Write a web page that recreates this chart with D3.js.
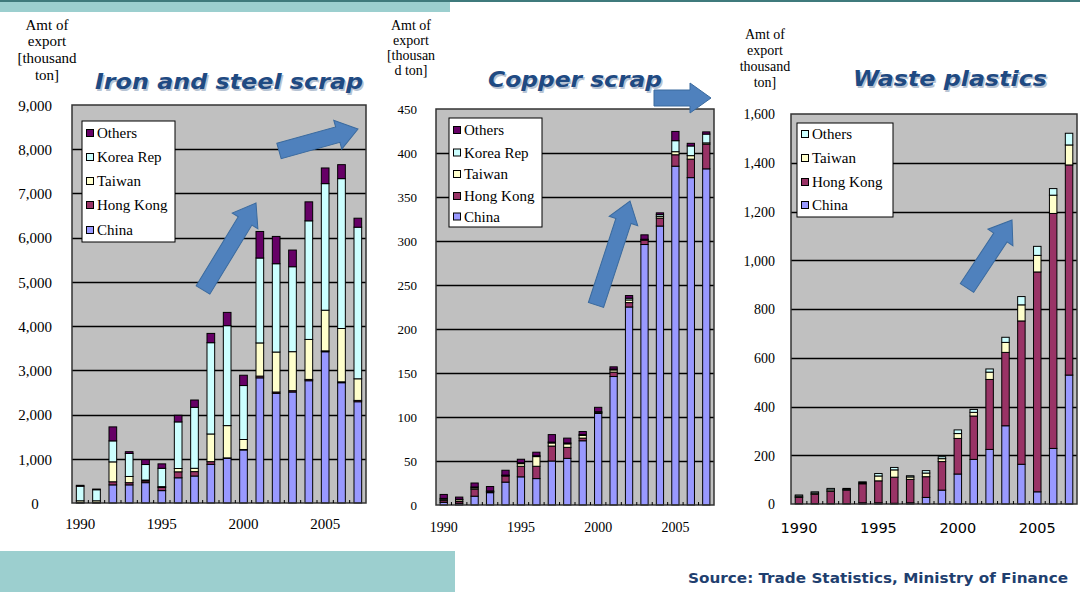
<!DOCTYPE html>
<html><head><meta charset="utf-8">
<script src="https://cdn.jsdelivr.net/npm/d3@7/dist/d3.min.js"></script>
<style>body{margin:0;background:#fff;overflow:hidden} svg{display:block}</style>
</head><body>
<svg id="c" width="1080" height="592"></svg>
<script>
// ---------- DATA ----------
const years = [1990,1991,1992,1993,1994,1995,1996,1997,1998,1999,2000,2001,2002,2003,2004,2005,2006,2007];
const yearTickLabels = [1990,1995,2000,2005];

// Iron and steel scrap (thousand ton)
const ironChina    = [5,5,410,410,460,280,570,610,875,1010,1200,2830,2480,2510,2765,3420,2720,2290];
const ironHongKong = [5,5,70,50,40,70,135,100,60,10,10,40,30,30,30,20,20,30];
const ironTaiwan   = [40,40,450,140,20,20,75,75,626,730,226,750,904,882,904,920,1206,489];
const ironKorea    = [330,250,475,520,350,415,1054,1379,2064,2260,1220,1920,1997,1921,2682,2862,3389,3428];
const ironOthers   = [20,15,316,40,110,100,150,165,210,300,233,600,617,377,429,354,316,203];
const ironTicks    = [0,1000,2000,3000,4000,5000,6000,7000,8000,9000];

// Copper scrap (thousand ton)
const copperChina    = [3,2,10,14,26,32,30,50,53,73,104,146,225,296,317,385,372,382];
const copperHongKong = [2,2,8,1,7,12,14,17,12.5,3,1,5,5,5,9,13,21,28];
const copperTaiwan   = [1.5,2,1.5,0.5,0.5,3,11,3.5,4,3,0.5,2.5,3,0.5,2,3.5,4,1.5];
const copperKorea    = [1,0.5,1,0.5,0.5,1,1,1,1,1,0.5,1,2,0.5,2,12.5,11,10];
const copperOthers   = [4.5,2.5,4.5,5,5.5,4,4,8.5,5.5,3.5,5,2.5,3,5,2,10.5,3,2.5];
const copperTicks    = [0,50,100,150,200,250,300,350,400,450];

// Waste plastics (thousand ton)
const plasticChina    = [2,2,2,2,5,5,3,5,27,57,123,183,224,321,163,50,228,529];
const plasticHongKong = [25,38,50,55,78,90,107,96,85,117,146,178,287,301,588,902,964,862];
const plasticTaiwan   = [5,5,6,3,4,20,30,10,15,12,20,15,30,41,66,68,75,82];
const plasticOthers   = [5,5,6,4,4,10,10,5,10,8,15,12,13,21,34,37,27,48];
const plasticTicks    = [0,200,400,600,800,1000,1200,1400,1600];

const ironKeys = ["China","Hong Kong","Taiwan","Korea Rep","Others"];
const plasticKeys = ["China","Hong Kong","Taiwan","Others"];

// ---------- STYLE / LAYOUT ----------
const SERIF = "'Liberation Serif','Times New Roman',Times,serif";
const colorIron = {"China":"#9999ff","Hong Kong":"#993366","Taiwan":"#ffffcc","Korea Rep":"#ccffff","Others":"#660066"};
const colorPlastic = {"China":"#9999ff","Hong Kong":"#993366","Taiwan":"#ffffcc","Others":"#ccffff"};

const panels = [
  {
    title:"Iron and steel scrap", titleBox:[95,363,89],
    axisLabel:["Amt of","export","[thousand","ton]"], axisLabelX:47, axisLabelY:[30,46,63,80], axisLabelSize:15,
    keys:ironKeys, colors:colorIron,
    cols:{"China":ironChina,"Hong Kong":ironHongKong,"Taiwan":ironTaiwan,"Korea Rep":ironKorea,"Others":ironOthers},
    ticks:ironTicks, max:9000,
    plot:{x0:72,x1:366,y0:105,y1:503},
    yLab:{x:35,anchor:"middle",size:15}, xLab:{y:529,family:SERIF,size:15},
    legend:{x:82,y:121,w:93,h:121,items:[133,157,181,205,230], order:["Others","Korea Rep","Taiwan","Hong Kong","China"]},
    arrows:[[203,290,256,203],[279,151,358,129]]
  },
  {
    title:"Copper scrap", titleBox:[488,662,87],
    axisLabel:["Amt of","export","[thousan","d ton]"], axisLabelX:411, axisLabelY:[30,45,60,75], axisLabelSize:14,
    keys:ironKeys, colors:colorIron,
    cols:{"China":copperChina,"Hong Kong":copperHongKong,"Taiwan":copperTaiwan,"Korea Rep":copperKorea,"Others":copperOthers},
    ticks:copperTicks, max:450,
    plot:{x0:436,x1:714,y0:109,y1:505},
    yLab:{x:417,anchor:"end",size:13}, xLab:{y:532,family:SERIF,size:14},
    legend:{x:449,y:118,w:93,h:109,items:[130,152.5,174,196,216.5], order:["Others","Korea Rep","Taiwan","Hong Kong","China"]},
    arrows:[[596,305,630,201],[654,98,711,98]]
  },
  {
    title:"Waste plastics", titleBox:[853,1047,86],
    axisLabel:["Amt of","export","thousand","ton]"], axisLabelX:765, axisLabelY:[39,55,71,87], axisLabelSize:14,
    keys:plasticKeys, colors:colorPlastic,
    cols:{"China":plasticChina,"Hong Kong":plasticHongKong,"Taiwan":plasticTaiwan,"Others":plasticOthers},
    ticks:plasticTicks, max:1600,
    plot:{x0:791,x1:1077,y0:114,y1:504},
    yLab:{x:775,anchor:"end",size:14}, xLab:{y:533,family:"'DejaVu Sans',sans-serif",size:14.5},
    legend:{x:797,y:123,w:96,h:94,items:[134,158,182,205], order:["Others","Taiwan","Hong Kong","China"]},
    arrows:[[967,288,1012,220]]
  }
];

const svg = d3.select("#c");

// background decorations
svg.append("rect").attr("x",0).attr("y",0).attr("width",1080).attr("height",592).attr("fill","#ffffff");
svg.append("rect").attr("x",0).attr("y",0).attr("width",450).attr("height",12).attr("fill","#9ccfcf");
svg.append("rect").attr("x",0).attr("y",0).attr("width",1080).attr("height",2).attr("fill","#3f7a7c");
svg.append("rect").attr("x",0).attr("y",551).attr("width",455).attr("height",41).attr("fill","#9ccfcf");

function drawArrow(g, a){
  const [x1,y1,x2,y2] = a;
  const L = Math.hypot(x2-x1,y2-y1), ang = Math.atan2(y2-y1,x2-x1)*180/Math.PI;
  const sw=16, hw=30, hl=21;
  const p = `M0,${-sw/2}L${L-hl},${-sw/2}L${L-hl},${-hw/2}L${L},0L${L-hl},${hw/2}L${L-hl},${sw/2}L0,${sw/2}Z`;
  g.append("path").attr("d",p).attr("transform",`translate(${x1},${y1}) rotate(${ang})`)
    .attr("fill","#4f81bd").attr("stroke","#3a6a9e").attr("stroke-width",1);
}

panels.forEach(P=>{
  const g = svg.append("g");
  const data = years.map((yr,i)=>{ const o={year:yr}; P.keys.forEach(k=>o[k]=P.cols[k][i]); return o; });
  const x = d3.scaleBand().domain(years).range([P.plot.x0,P.plot.x1]).paddingInner(0.53).paddingOuter(0.265);
  const y = d3.scaleLinear().domain([0,P.max]).range([P.plot.y1,P.plot.y0]);

  g.append("rect").attr("x",P.plot.x0).attr("y",P.plot.y0).attr("width",P.plot.x1-P.plot.x0).attr("height",P.plot.y1-P.plot.y0)
    .attr("fill","#c0c0c0");
  g.append("g").selectAll("line").data(P.ticks.slice(1,-1)).join("line")
    .attr("x1",P.plot.x0).attr("x2",P.plot.x1).attr("y1",d=>Math.round(y(d))+0.5).attr("y2",d=>Math.round(y(d))+0.5)
    .attr("stroke","#000").attr("stroke-width",1.3);

  const stack = d3.stack().keys(P.keys)(data);
  g.append("g").selectAll("g").data(stack).join("g").attr("fill",s=>P.colors[s.key])
    .selectAll("rect").data(s=>s).join("rect")
    .attr("x",d=>x(d.data.year)).attr("width",x.bandwidth())
    .attr("y",d=>y(d[1])).attr("height",d=>Math.max(0,y(d[0])-y(d[1])))
    .attr("stroke","#000").attr("stroke-width",1);

  g.append("rect").attr("x",P.plot.x0).attr("y",P.plot.y0).attr("width",P.plot.x1-P.plot.x0).attr("height",P.plot.y1-P.plot.y0)
    .attr("fill","none").attr("stroke","#333").attr("stroke-width",1.5);

  const step = x.step();
  g.append("g").selectAll("line").data(years.slice(1)).join("line")
    .attr("x1",d=>x(d)-(step-x.bandwidth())/2).attr("x2",d=>x(d)-(step-x.bandwidth())/2)
    .attr("y1",P.plot.y1).attr("y2",P.plot.y1-3).attr("stroke","#000").attr("stroke-width",1);

  const ya = g.append("g").attr("transform",`translate(${P.yLab.x},0)`)
    .call(d3.axisLeft(y).tickValues(P.ticks).tickSize(0).tickPadding(0).tickFormat(d3.format(",")));
  ya.attr("font-family",null).attr("font-size",null);
  ya.select(".domain").remove();
  ya.selectAll("text").attr("text-anchor",P.yLab.anchor).attr("x",0).attr("dy","0.35em")
    .attr("font-family",SERIF).attr("font-size",P.yLab.size).attr("fill","#000");

  const xa = g.append("g").attr("transform",`translate(0,${P.plot.y1})`)
    .call(d3.axisBottom(x).tickValues(yearTickLabels).tickSize(0).tickPadding(0));
  xa.attr("font-family",null).attr("font-size",null);
  xa.select(".domain").remove();
  xa.selectAll("text").attr("y",P.xLab.y-P.plot.y1).attr("dy",0)
    .attr("font-family",P.xLab.family).attr("font-size",P.xLab.size).attr("fill","#000");

  g.append("g").selectAll("text").data(P.axisLabel).join("text")
    .attr("x",P.axisLabelX).attr("y",(d,i)=>P.axisLabelY[i]).attr("text-anchor","middle")
    .attr("font-family",SERIF).attr("font-size",P.axisLabelSize).attr("fill","#000").text(d=>d);

  const [tx0,tx1,ty] = P.titleBox;
  [[1.5,1.5,"#b7c3d3"],[0,0,"#1f4a82"]].forEach(([dx,dy,c])=>{
    g.append("text").attr("x",tx0+dx).attr("y",ty+dy).attr("textLength",tx1-tx0).attr("lengthAdjust","spacingAndGlyphs")
      .attr("font-family","'DejaVu Sans',sans-serif").attr("font-weight","bold").attr("font-style","italic").attr("font-size",21)
      .attr("fill",c).text(P.title);
  });

  const L = P.legend;
  const lg = g.append("g");
  lg.append("rect").attr("x",L.x).attr("y",L.y).attr("width",L.w).attr("height",L.h).attr("fill","#fff").attr("stroke","#000").attr("stroke-width",1);
  L.order.forEach((k,i)=>{
    lg.append("rect").attr("x",L.x+4.5).attr("y",L.items[i]-3.5).attr("width",7).attr("height",7)
      .attr("fill",P.colors[k]).attr("stroke","#000").attr("stroke-width",1);
    lg.append("text").attr("x",L.x+15).attr("y",L.items[i]).attr("dy","0.35em")
      .attr("font-family",SERIF).attr("font-size",15).attr("fill","#000").text(k);
  });

  P.arrows.forEach(a=>drawArrow(g,a));
});

svg.append("text").attr("x",688).attr("y",583).attr("textLength",380).attr("lengthAdjust","spacingAndGlyphs")
  .attr("font-family","'DejaVu Sans Condensed','DejaVu Sans',sans-serif").attr("font-weight","bold").attr("font-size",14)
  .attr("fill","#1f3f6f").text("Source: Trade Statistics, Ministry of Finance");
</script>
</body></html>
